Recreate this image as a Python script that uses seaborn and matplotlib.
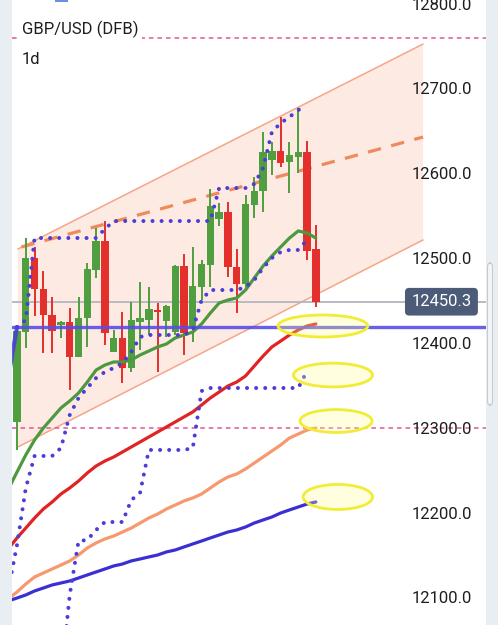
import numpy as np
import pandas as pd
import matplotlib
matplotlib.use("Agg")
import matplotlib.pyplot as plt
import matplotlib.transforms as mtransforms
from matplotlib.patches import Ellipse, Polygon, FancyBboxPatch, Rectangle
import seaborn as sns

# ---------------- data ----------------
opens = [12308.6, 12414.6, 12501.8, 12465.3, 12434.7, 12422.9, 12426.4, 12385.2, 12431.1, 12487.7,
         12521.9, 12391.1, 12407.6, 12372.2, 12426.4, 12428.8, 12440.6, 12427.6, 12414.6, 12492.4,
         12419.3, 12467.7, 12493.6, 12547.8, 12556.1, 12491.2, 12471.2, 12564.3, 12580.8, 12617.3,
         12627.9, 12615.0, 12620.9, 12626.8, 12512.4]
highs = [12418.0, 12525.4, 12514.8, 12486.5, 12455.9, 12428.0, 12442.9, 12455.9, 12495.9, 12537.2,
         12545.4, 12417.0, 12438.2, 12450.0, 12473.6, 12467.7, 12448.8, 12447.0, 12493.6, 12506.6,
         12514.8, 12499.5, 12583.2, 12566.7, 12567.8, 12512.4, 12576.1, 12597.3, 12650.3, 12638.5,
         12668.0, 12638.5, 12678.6, 12639.7, 12540.7]
lows = [12275.6, 12395.8, 12433.5, 12389.9, 12389.9, 12407.6, 12346.3, 12385.2, 12397.0, 12478.3,
        12399.4, 12391.1, 12354.5, 12367.5, 12393.4, 12411.1, 12367.5, 12408.7, 12411.1, 12387.5,
        12402.9, 12452.3, 12467.7, 12540.0, 12479.5, 12437.0, 12465.0, 12549.0, 12556.1, 12600.0,
        12609.1, 12578.4, 12602.0, 12499.5, 12444.1]
closes = [12415.8, 12501.8, 12465.3, 12434.7, 12415.8, 12426.4, 12385.2, 12431.1, 12488.9, 12521.9,
          12413.5, 12407.6, 12372.2, 12428.8, 12431.1, 12441.7, 12438.2, 12445.3, 12492.4, 12413.5,
          12468.8, 12494.8, 12563.1, 12556.1, 12491.2, 12471.2, 12565.5, 12580.8, 12626.8, 12627.9,
          12613.8, 12623.2, 12626.8, 12510.1, 12450.3]

# moving averages, candle index -1 .. 34
ma_green = [12229.0, 12249.6, 12269.7, 12287.4, 12301.5, 12313.3, 12325.1, 12333.3, 12342.7, 12355.7,
            12369.8, 12375.7, 12379.3, 12379.3, 12381.6, 12387.5, 12392.2, 12397.0, 12400.5, 12407.6,
            12411.1, 12414.6, 12424.1, 12437.0, 12448.8, 12452.3, 12454.7, 12464.1, 12478.3, 12492.4,
            12504.2, 12514.8, 12525.4, 12533.7, 12531.3, 12525.4]
ma_red = [12158.9, 12171.9, 12183.6, 12195.4, 12206.0, 12214.3, 12223.7, 12230.8, 12239.0, 12248.5,
          12256.7, 12262.6, 12267.3, 12273.2, 12279.1, 12285.0, 12290.9, 12296.8, 12302.7, 12308.6,
          12314.5, 12320.4, 12328.6, 12336.9, 12343.9, 12351.0, 12355.7, 12362.8, 12374.6, 12386.3,
          12397.0, 12404.0, 12411.1, 12417.0, 12421.7, 12424.1]
ma_salmon = [12100.0, 12108.2, 12117.6, 12125.9, 12130.6, 12135.3, 12140.0, 12144.8, 12151.8, 12160.1,
             12166.0, 12170.7, 12174.2, 12178.9, 12183.6, 12189.5, 12195.4, 12200.1, 12206.0, 12210.7,
             12215.5, 12219.0, 12223.7, 12230.8, 12237.9, 12243.8, 12247.3, 12253.2, 12260.2, 12267.3,
             12274.4, 12281.5, 12289.7, 12294.4, 12299.1, 12301.5]
ma_indigo = [12097.6, 12101.1, 12104.7, 12109.4, 12112.9, 12116.5, 12118.8, 12121.2, 12124.7, 12128.3,
             12131.8, 12135.3, 12138.9, 12141.2, 12144.8, 12147.1, 12149.5, 12151.8, 12155.4, 12157.7,
             12161.3, 12164.8, 12168.3, 12171.9, 12175.4, 12178.9, 12181.3, 12184.8, 12189.5, 12193.1,
             12196.6, 12201.3, 12204.9, 12208.4, 12211.9, 12214.3]

# stepped (dotted) indicator lines
step_upper = [12360.4, 12420.5, 12428.8, 12525.4, 12525.4, 12525.4, 12525.4, 12525.4, 12525.4, 12525.4,
              12525.4, 12536.0, 12545.4, 12545.4, 12545.4, 12545.4, 12545.4, 12545.4, 12545.4, 12545.4,
              12545.4, 12545.4, 12545.4, 12545.4, 12584.3, 12584.3, 12584.3, 12584.3, 12589.0, 12607.9,
              12650.3, 12660.9, 12668.0, 12676.3, 12681.0]          # index -1 .. 33
step_mid = [12110.6, 12163.6, 12230.8, 12268.5, 12268.5, 12268.5, 12277.9, 12316.8, 12336.9, 12348.6,
            12360.4, 12367.5, 12372.2, 12378.1, 12391.1, 12408.7, 12411.1, 12411.1, 12411.1, 12411.1,
            12411.1, 12417.0, 12452.3, 12464.1, 12464.1, 12464.1, 12464.1, 12467.7, 12475.9, 12490.1,
            12501.8, 12508.9, 12511.3, 12511.3, 12523.1]            # index -1 .. 33
step_lower = [12004.5, 12104.7, 12168.3, 12169.5, 12181.3, 12190.7, 12190.7, 12190.7, 12216.6, 12224.9,
              12275.6, 12275.6, 12275.6, 12275.6, 12275.6, 12277.9, 12345.1, 12348.6, 12348.6, 12348.6,
              12348.6, 12348.6, 12348.6, 12348.6, 12348.6, 12348.6, 12348.6, 12348.6, 12368.7]  # index 5 .. 33

channel_x = [0.1, 46.2]
channel_upper = [12512.4, 12754.0]
channel_lower = [12279.1, 12523.1]
trend_x = [0.5, 46.2]
trend_y = [12514.8, 12644.4]

level_blue = 12421.1
levels_pink = [12761.0, 12302.0]
last_price = 12450.3
ytick_vals = [12100, 12200, 12300, 12400, 12500, 12600, 12700, 12800]
title = "GBP/USD (DFB)"
interval = "1d"

# ---------------- style ----------------
sns.set_theme(style="white")
plt.rcParams['font.family'] = ['Roboto', 'DejaVu Sans']

W, H = 498, 625
fig = plt.figure(figsize=(W / 100, H / 100), dpi=100, facecolor='#e8eef1')
ax = fig.add_axes([12 / W, 0, 474 / W, 1])
ax.set_facecolor('white')
ax.set_xlim(-0.569, 53.36)
ax.set_ylim(12069.3, 12805.9)
ax.set_xticks([])
ax.set_yticks([])
for s in ax.spines.values():
    s.set_visible(False)

GREEN = '#4f9e3f'
RED = '#e3302c'
DOT = '#4b3dd9'

# channel
poly = Polygon([[channel_x[0], channel_upper[0]], [channel_x[1], channel_upper[1]],
                [channel_x[1], channel_lower[1]], [channel_x[0], channel_lower[0]]],
               closed=True, facecolor='#fdeae2', edgecolor='none', zorder=1)
ax.add_patch(poly)
ax.plot(channel_x, channel_upper, color='#f6a688', lw=1.1, zorder=1.2)
ax.plot(channel_x, channel_lower, color='#f6a688', lw=1.1, zorder=1.2)

# horizontal levels
for v in levels_pink:
    ax.axhline(v, color='#e0579b', lw=1.1, dashes=(3, 2.6), zorder=1.5)
ax.axhline(last_price, color='#b2b6bd', lw=1.3, zorder=1.6)

# trend line (dashed orange)
ax.plot(trend_x, trend_y, color='#ef8a5c', lw=2.3, dashes=(4.2, 3.3), zorder=2)

# candles
o = np.array(opens); c = np.array(closes); h = np.array(highs); l = np.array(lows)
xi = np.arange(len(o))
cols = np.where(c >= o, GREEN, RED)
ax.vlines(xi, l, h, colors=cols, lw=1.4, zorder=3)
body_lo = np.minimum(o, c)
body_h = np.maximum(np.abs(c - o), 2.0)
ax.bar(xi, body_h, bottom=body_lo, width=0.84, color=cols, linewidth=0, zorder=3.1)

# moving averages (seaborn)
idx_ma = np.arange(-1, len(o))
df = pd.DataFrame({'x': idx_ma, 'green': ma_green, 'red': ma_red,
                   'salmon': ma_salmon, 'indigo': ma_indigo})
for col, color in [('indigo', '#3a2fd2'), ('salmon', '#f6996e'),
                   ('red', '#e12323'), ('green', '#4c993f')]:
    sns.lineplot(data=df, x='x', y=col, ax=ax, color=color, lw=2.3,
                 estimator=None, sort=False, legend=False, zorder=4)

# blue horizontal level
ax.axhline(level_blue, color='#5a4de4', lw=2.4, alpha=0.9, zorder=4.5)

# dotted stepped lines
dot_style = dict(color=DOT, lw=2.9, linestyle=(0, (0.01, 2.25)), dash_capstyle='round',
                 estimator=None, sort=False, legend=False, zorder=5)
sns.lineplot(x=np.arange(0, 34), y=step_upper[1:], ax=ax, **dot_style)
sns.lineplot(x=np.arange(-1, 1), y=step_upper[:2], ax=ax, color=DOT, lw=3.0,
             estimator=None, sort=False, legend=False, zorder=5, alpha=0.85)
sns.lineplot(x=np.arange(-1, 34), y=step_mid, ax=ax, **dot_style)
sns.lineplot(x=np.arange(5, 34), y=step_lower, ax=ax, **dot_style)

# highlight ellipses at the line ends
ell_specs = [((len(o) - 1) + 0.8, ma_red[-1] - 2.4, 10.2, 26),
             (33 + 2.95, step_lower[-1] - 4.8, 9.0, 28),
             ((len(o) - 1) + 2.3, ma_salmon[-1] + 8.2, 8.2, 27),
             ((len(o) - 1) + 2.5, ma_indigo[-1] + 5.9, 7.9, 29.5)]
for cx, cy, ew, eh in ell_specs:
    ax.add_patch(Ellipse((cx, cy), ew, eh, facecolor=(1, 1, 0.55, 0.28),
                         edgecolor='#f1ec35', lw=2.0, zorder=6))

# y labels inside plot
tr = mtransforms.blended_transform_factory(ax.transAxes, ax.transData)
for v in ytick_vals:
    ax.text(0.970, v, f"{v:.1f}", transform=tr, ha='right', va='center',
            fontsize=12, color='#1e1e1e', zorder=7)

# current price box
ax.text(0.906, last_price, f"{last_price:.1f}", transform=tr, ha='center', va='center',
        fontsize=12, color='white', zorder=8,
        bbox=dict(boxstyle='round,pad=0.38,rounding_size=0.25', fc='#4b5b78', ec='none'))

# title texts
fig.text(22 / W, 1 - 29 / H, title, ha='left', va='center', fontsize=12, color='#1e1e1e',
         bbox=dict(fc='white', ec='none', pad=2.2))
fig.text(22 / W, 1 - 60 / H, interval, ha='left', va='center', fontsize=12, color='#1e1e1e')

# scrollbar on right strip
fig.patches.append(FancyBboxPatch((487.5 / W, 1 - 405 / H), 5 / W, 142 / H,
                                  boxstyle='round,pad=0,rounding_size=0.006',
                                  transform=fig.transFigure, fc='#f3f5f7', ec='#c6cbd0', lw=0.8))
# small cut-off icon at top
fig.patches.append(Rectangle((55 / W, 1 - 2 / H), 13 / W, 2 / H, transform=fig.transFigure,
                             fc='#6c8fe6', ec='none'))

fig.savefig('out.png', dpi=100, facecolor=fig.get_facecolor())
